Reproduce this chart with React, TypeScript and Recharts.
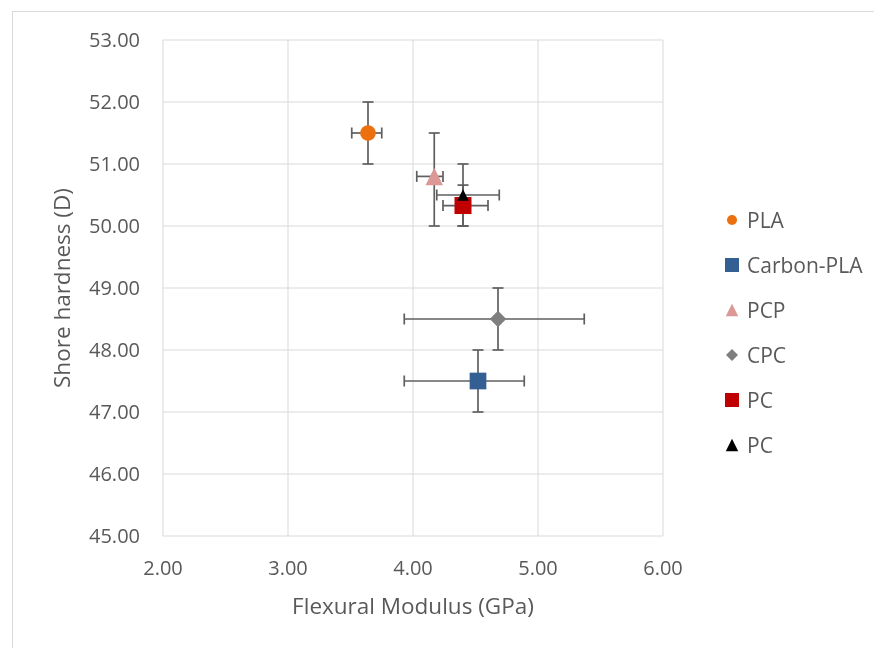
import React from "react";
import { ScatterChart, Scatter, XAxis, YAxis, CartesianGrid, ErrorBar } from "recharts";

const seriesNames = ["PLA", "Carbon-PLA", "PCP", "CPC", "PC", "PC"];
const modulus = [3.64, 4.52, 4.17, 4.68, 4.4, 4.4];
const modulusErr: [number, number][] = [
  [0.13, 0.11],
  [0.59, 0.37],
  [0.14, 0.07],
  [0.75, 0.69],
  [0.16, 0.2],
  [0.21, 0.29],
];
const hardness = [51.5, 47.5, 50.8, 48.5, 50.33, 50.5];
const hardnessErr: [number, number][] = [
  [0.5, 0.5],
  [0.5, 0.5],
  [0.8, 0.7],
  [0.5, 0.5],
  [0.33, 0.33],
  [0.5, 0.5],
];
const xTicks = [2, 3, 4, 5, 6];
const yTicks = [45, 46, 47, 48, 49, 50, 51, 52, 53];

// marker styles, one per series
const colors = ["#EC700E", "#335F95", "#DB9895", "#7F7F7F", "#C00000", "#000000"];
const shapes = ["circle", "square", "triangle", "diamond", "square", "triangle"];
const plotSizes = [15.7, 16.7, 17.5, 16.5, 17, 11.5];
const legendSizes = [10, 14, 12.5, 12, 14, 12.5];

const FONT = "'Open Sans', 'Liberation Sans', sans-serif";
const TEXT = "#595959";
const ERR = "#5f5f5f";

function Marker({ cx, cy, shape, size, color }: { cx: number; cy: number; shape: string; size: number; color: string }) {
  const h = size / 2;
  if (shape === "circle") return <circle cx={cx} cy={cy} r={h} fill={color} />;
  if (shape === "square") return <rect x={cx - h} y={cy - h} width={size} height={size} fill={color} />;
  if (shape === "triangle")
    return <polygon points={`${cx},${cy - h} ${cx + h},${cy + h} ${cx - h},${cy + h}`} fill={color} />;
  return <polygon points={`${cx},${cy - h} ${cx + h},${cy} ${cx},${cy + h} ${cx - h},${cy}`} fill={color} />;
}

const seriesData = seriesNames.map((_, i) => [
  { x: modulus[i], y: hardness[i], ex: modulusErr[i], ey: hardnessErr[i] },
]);

export default function App() {
  return (
    <div style={{ position: "relative", width: 858, height: 632, fontFamily: FONT }}>
      {/* chart frame, runs off the right and bottom of the page */}
      <div
        style={{
          position: "fixed",
          left: 12,
          top: 11,
          width: 900,
          height: 700,
          border: "1px solid #d9d9d9",
          pointerEvents: "none",
        }}
      />
      <ScatterChart width={858} height={632} margin={{ top: 32, right: 203, left: 0, bottom: 0 }}>
        <CartesianGrid stroke="#d9d9d9" strokeWidth={1} />
        <XAxis
          type="number"
          dataKey="x"
          domain={[2, 6]}
          ticks={xTicks}
          tickFormatter={(v: number) => v.toFixed(2)}
          axisLine={false}
          tickLine={false}
          tickSize={0}
          tickMargin={25}
          height={104}
          tick={{ fill: TEXT, fontSize: 20, fontFamily: FONT }}
          label={{
            value: "Flexural Modulus (GPa)",
            position: "insideBottom",
            offset: 26,
            style: { fill: TEXT, fontSize: 22.5, fontFamily: FONT },
          }}
        />
        <YAxis
          type="number"
          dataKey="y"
          domain={[45, 53]}
          ticks={yTicks}
          tickFormatter={(v: number) => v.toFixed(2)}
          axisLine={false}
          tickLine={false}
          tickSize={0}
          tickMargin={23}
          width={155}
          tick={{ fill: TEXT, fontSize: 20, fontFamily: FONT }}
          label={{
            value: "Shore hardness (D)",
            angle: -90,
            position: "insideLeft",
            offset: 54,
            style: { fill: TEXT, fontSize: 22.5, fontFamily: FONT, textAnchor: "middle" },
          }}
        />
        {seriesData.map((d, i) => (
          <Scatter key={"err" + i} data={d} isAnimationActive={false} shape={() => <g />}>
            <ErrorBar dataKey="ex" direction="x" width={5.5} stroke={ERR} strokeWidth={1.7} isAnimationActive={false} />
            <ErrorBar dataKey="ey" direction="y" width={5.5} stroke={ERR} strokeWidth={1.7} isAnimationActive={false} />
          </Scatter>
        ))}
        {seriesData.map((d, i) => (
          <Scatter
            key={"pt" + i}
            name={seriesNames[i]}
            data={d}
            isAnimationActive={false}
            shape={(p: any) => (
              <Marker cx={p.cx} cy={p.cy} shape={shapes[i]} size={plotSizes[i]} color={colors[i]} />
            )}
          />
        ))}
      </ScatterChart>
      {seriesNames.map((name, i) => (
        <div
          key={"lg" + i}
          style={{
            position: "absolute",
            left: 716,
            top: 212 + i * 45 - 15,
            height: 30,
            display: "flex",
            alignItems: "center",
            color: TEXT,
            fontSize: 21,
            whiteSpace: "nowrap",
          }}
        >
          <svg width={16} height={30} style={{ display: "block" }}>
            <Marker cx={8} cy={15} shape={shapes[i]} size={legendSizes[i]} color={colors[i]} />
          </svg>
          <span style={{ marginLeft: 7 }}>{name}</span>
        </div>
      ))}
    </div>
  );
}
